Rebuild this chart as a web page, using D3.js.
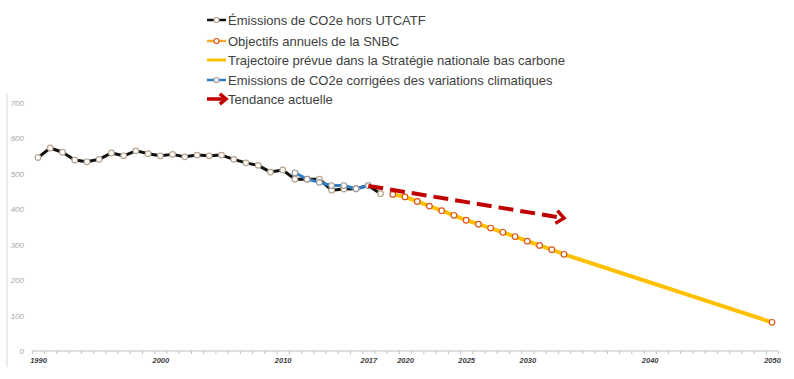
<!DOCTYPE html>
<html><head><meta charset="utf-8">
<script src="https://cdn.jsdelivr.net/npm/d3@7"></script>
<style>body{margin:0;background:#fff}svg{display:block}</style>
</head><body><svg id="c" width="794" height="379"></svg>
<script>
// ---- data ----
const histYears = d3.range(1990, 2019);
const histValues = [546,573,561,539,534,541,559,551,565,557,551,555,548,553,551,553,541,531,524,505,511,485,485,485,454,457,458,467,444];
const corrYears = [2011,2012,2013,2014,2015,2016,2017];
const corrValues = [503,485,476,467,467,458,467];
const snbcYears = [2019,2020,2021,2022,2023,2024,2025,2026,2027,2028,2029,2030,2031,2032,2033,2050];
const snbcValues = [442,435,422,409,396,383,369,358,347,335,323,310,298,286,273,81];
const trajYears = snbcYears;
const trajValues = snbcValues;
const trendYears = [2017, 2033];
const trendValues = [466, 375];
const xLabelYears = [1990,2000,2010,2017,2020,2025,2030,2040,2050];
const yTicks = [0,100,200,300,400,500,600,700];
const legendLabels = ["Émissions de CO2e hors UTCATF","Objectifs annuels de la SNBC"," Trajectoire prévue dans la Stratégie nationale bas carbone","Emissions de CO2e corrigées des variations climatiques","Tendance actuelle"];

const svg = d3.select("#c");
const x = d3.scaleLinear().domain([1990, 2050]).range([38, 772]);
const y = d3.scaleLinear().domain([0, 700]).range([351, 103]);

// left frame line
svg.append("line").attr("x1",7).attr("x2",7).attr("y1",93).attr("y2",367).attr("stroke","#d9d9d9").attr("stroke-width",1);

// y labels
const ya = svg.append("g").attr("transform","translate(26,0)")
  .call(d3.axisLeft(y).tickValues(yTicks).tickSize(0).tickPadding(2));
ya.select(".domain").remove();
ya.selectAll("text").attr("font-family","Liberation Sans, Arial").attr("font-style","italic").attr("font-size",8).attr("fill","#a6a6a6");

// x axis ticks
const xt = svg.append("g").attr("transform","translate(0,351)")
  .call(d3.axisBottom(x).tickValues(d3.range(1989.5, 2051, 1)).tickSize(3).tickFormat(""));
xt.select(".domain").attr("stroke","#bfbfbf").attr("d", `M${x(1989.5)},0H${x(2050.5)}`);
xt.selectAll(".tick line").attr("stroke","#bfbfbf");
const xl = svg.append("g").attr("transform","translate(0,351)")
  .call(d3.axisBottom(x).tickValues(xLabelYears).tickSize(0).tickPadding(7).tickFormat(d3.format("d")));
xl.select(".domain").remove();
xl.selectAll("text").attr("font-family","Liberation Sans, Arial").attr("font-style","italic").attr("font-weight","bold").attr("font-size",7.5).attr("fill","#404040");

const line = d3.line().x(d=>x(d[0])).y(d=>y(d[1]));
const zip = (a,b)=>a.map((v,i)=>[v,b[i]]);

// trajectory (yellow)
svg.append("path").attr("d", line(zip(trajYears, trajValues))).attr("fill","none").attr("stroke","#ffc000").attr("stroke-width",4).attr("stroke-linejoin","round");
// historical (black)
svg.append("path").attr("d", line(zip(histYears, histValues))).attr("fill","none").attr("stroke","#111").attr("stroke-width",3).attr("stroke-linejoin","round");
// corrected (blue)
svg.append("path").attr("d", line(zip(corrYears, corrValues))).attr("fill","none").attr("stroke","#2e7cc4").attr("stroke-width",3).attr("stroke-linejoin","round");

// markers
function markers(xs, vs, stroke){
  svg.append("g").selectAll("circle").data(zip(xs,vs)).join("circle")
    .attr("cx",d=>x(d[0])).attr("cy",d=>y(d[1])).attr("r",2.8)
    .attr("fill","#fff").attr("stroke",stroke).attr("stroke-width",1.2);
}
markers(histYears, histValues, "#b8a48e");
markers(corrYears, corrValues, "#9a9a9a");
markers(snbcYears, snbcValues, "#d9541e");

// trend arrow
const p0 = [x(trendYears[0]), y(trendValues[0])], p1 = [x(trendYears[1]), y(trendValues[1])];
const ang = Math.atan2(p1[1]-p0[1], p1[0]-p0[0]);
const back = 4;
svg.append("line").attr("x1",p0[0]).attr("y1",p0[1])
  .attr("x2",p1[0]-back*Math.cos(ang)).attr("y2",p1[1]-back*Math.sin(ang))
  .attr("stroke","#c00000").attr("stroke-width",4).attr("stroke-dasharray","15,7");
function chevron(tx, ty, a, len, w){
  const a1 = a + Math.PI*0.78, a2 = a - Math.PI*0.78;
  return `M${tx+len*Math.cos(a1)},${ty+len*Math.sin(a1)}L${tx},${ty}L${tx+len*Math.cos(a2)},${ty+len*Math.sin(a2)}`;
}
svg.append("path").attr("d", chevron(p1[0],p1[1],ang,10)).attr("fill","none").attr("stroke","#c00000").attr("stroke-width",3.5).attr("stroke-linejoin","miter");

// legend
const lg = svg.append("g");
const rowsY = [20,41,60,80,99];
const lx0 = 207, lx1 = 226;
legendLabels.forEach((t,i)=>{
  lg.append("text").attr("x", 228).attr("y", rowsY[i]).attr("dy","0.35em")
    .attr("font-family","Liberation Sans, Arial").attr("font-size",13).attr("fill","#404040").text(t);
});
// row 1
lg.append("line").attr("x1",lx0).attr("x2",lx1).attr("y1",rowsY[0]).attr("y2",rowsY[0]).attr("stroke","#111").attr("stroke-width",2.5);
lg.append("circle").attr("cx",(lx0+lx1)/2).attr("cy",rowsY[0]).attr("r",2.5).attr("fill","#fff").attr("stroke","#b8a48e").attr("stroke-width",1.2);
// row 2
lg.append("line").attr("x1",lx0).attr("x2",lx1).attr("y1",rowsY[1]).attr("y2",rowsY[1]).attr("stroke","#f7ab2a").attr("stroke-width",2.5);
lg.append("circle").attr("cx",(lx0+lx1)/2).attr("cy",rowsY[1]).attr("r",2.5).attr("fill","#fff").attr("stroke","#d9541e").attr("stroke-width",1.2);
// row 3
lg.append("line").attr("x1",lx0).attr("x2",lx1).attr("y1",rowsY[2]).attr("y2",rowsY[2]).attr("stroke","#ffc000").attr("stroke-width",3);
// row 4
lg.append("line").attr("x1",lx0).attr("x2",lx1).attr("y1",rowsY[3]).attr("y2",rowsY[3]).attr("stroke","#2e7cc4").attr("stroke-width",2.5);
lg.append("circle").attr("cx",(lx0+lx1)/2).attr("cy",rowsY[3]).attr("r",2.5).attr("fill","#fff").attr("stroke","#9a9a9a").attr("stroke-width",1.2);
// row 5 arrow
lg.append("line").attr("x1",lx0).attr("x2",lx1-3).attr("y1",rowsY[4]).attr("y2",rowsY[4]).attr("stroke","#c00000").attr("stroke-width",3.5);
lg.append("path").attr("d", chevron(lx1, rowsY[4], 0, 8)).attr("fill","none").attr("stroke","#c00000").attr("stroke-width",3.5);
</script></body></html>
